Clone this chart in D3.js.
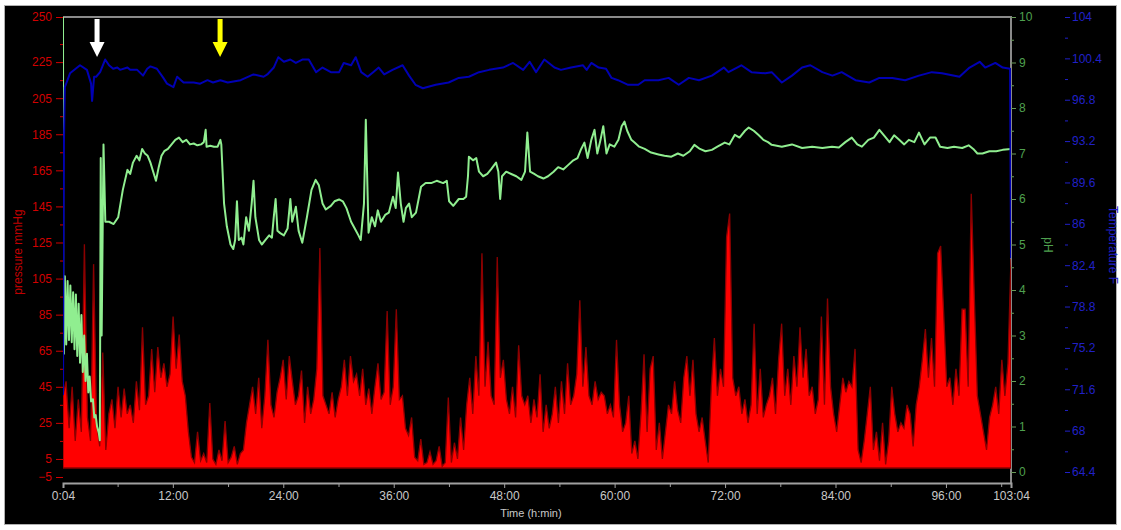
<!DOCTYPE html>
<html>
<head>
<meta charset="utf-8">
<script src="https://cdn.jsdelivr.net/npm/d3@7"></script>
<style>
  body { margin: 0; background: #fff; }
</style>
</head>
<body>
<div id="chart"></div>
<script>
// pressure, mmHg, one reading every ~20 min from 0:04 to 103:04
const pressure = [
  40, 48, 22, 45, 15, 38, 20, 124, 28, 15, 113, 25,
  12, 64, 10, 30,
  38, 22, 45, 28, 44, 30, 35, 25, 48, 32, 78, 35, 40, 66, 42, 67, 50, 58, 45, 52, 84, 55, 74, 48, 40, 20,
  6, 3, 20, 4, 8, 3, 36, 5, 2, 10, 4, 26, 3, 6, 12, 2, 8, 10, 25,
  35, 45, 30, 50, 22, 40, 71, 35, 28, 42, 50, 60, 38, 62, 48, 35, 40,
  54, 25, 45, 30, 38, 55, 122, 40, 35, 30, 42, 28, 38, 45, 60, 40, 62, 48, 52, 40, 55, 35, 44, 30, 45, 58, 38, 42, 87, 35, 45, 88, 38, 40,
  22, 18, 28, 6, 4, 16, 2, 3, 9, 2, 4, 12, 1, 3, 39, 3, 14, 5, 28, 10, 35,
  50, 30, 62, 40, 119, 45, 70, 40, 35, 117, 50, 60, 38, 30, 45, 28, 68, 40, 35, 40,
  25, 38, 28, 52, 20, 35, 22, 30, 45, 25, 48, 30, 58, 35, 40, 52, 93, 45, 67, 40, 35, 48, 38, 42, 40, 30, 35, 28,
  71, 35, 20, 25, 40, 8, 15, 5, 30, 63, 20, 55, 62, 10, 25, 5, 20, 35, 30, 48, 32, 25, 50, 62, 40, 60, 30, 20, 28, 15, 3,
  45, 72, 40, 55, 45, 128, 141, 50, 40, 45, 30, 38, 25, 35, 80, 30, 55, 28, 35,
  40, 50, 30, 60, 80, 40, 55, 35, 62, 45, 78, 50, 66, 40, 45, 30, 38, 84, 35, 94, 45, 30, 20, 35, 50, 42, 48, 45, 66,
  10, 3, 15, 30, 45, 10, 20, 4, 25, 2, 15, 45, 30, 20, 25, 22, 35, 30, 12, 35, 45, 60,
  77, 50, 72, 45, 119, 123, 85, 45, 50, 35, 55, 40, 88, 88, 45, 152, 95, 40, 30, 20, 10, 28, 35, 45, 30, 60, 40, 58, 116
];

// pH readings: [hours since 0:04, pH]
const ph = [
  [0, 10], [0.02, 4.4], [0.1, 2.6], [0.2, 4.3], [0.35, 2.8], [0.5, 4.2], [0.65, 2.9], [0.8, 4.1],
  [0.95, 2.85], [1.1, 3.95], [1.25, 2.7], [1.4, 3.9], [1.55, 2.55], [1.7, 3.7], [1.85, 2.4],
  [2.0, 3.45], [2.15, 2.2], [2.3, 3.0], [2.45, 2.0], [2.6, 2.6], [2.75, 1.75], [2.9, 2.1],
  [3.05, 1.55], [3.25, 1.6], [3.4, 1.2], [3.55, 1.25], [3.7, 1.0], [3.9, 0.85], [4.0, 0.7],
  [4.1, 6.9], [4.2, 3.0], [4.4, 7.2], [4.6, 5.5], [5.0, 5.5], [5.5, 5.45], [6.0, 5.6],
  [6.5, 6.2], [7.0, 6.64], [7.3, 6.55], [7.6, 6.8], [8.0, 6.95], [8.3, 6.85], [8.6, 7.1],
  [8.9, 7.0], [9.2, 6.95], [9.5, 6.8], [9.8, 6.6], [10.1, 6.4], [10.4, 6.7], [10.7, 6.95],
  [11.0, 7.05], [11.4, 7.1], [11.8, 7.2], [12.2, 7.3], [12.6, 7.35], [13.0, 7.25], [13.4, 7.3],
  [13.8, 7.2], [14.2, 7.22], [14.6, 7.18], [15.0, 7.2], [15.3, 7.25], [15.5, 7.52], [15.6, 7.15],
  [16.0, 7.17], [16.4, 7.15], [16.8, 7.15], [17.1, 7.3], [17.2, 7.2], [17.5, 5.9], [17.8, 5.4],
  [18.2, 5.0], [18.5, 4.9], [18.7, 5.1], [18.9, 5.95], [19.1, 5.1], [19.4, 5.15], [19.6, 5.0],
  [19.9, 5.6], [20.2, 5.3], [20.5, 5.9], [20.7, 6.4], [20.9, 5.6], [21.3, 5.1], [21.6, 5.0],
  [22.0, 5.1], [22.4, 5.2], [22.7, 5.15], [22.9, 5.6], [23.1, 6.0], [23.3, 5.3], [23.6, 5.25],
  [24.0, 5.2], [24.4, 5.35], [24.7, 6.0], [24.9, 5.5], [25.3, 5.83], [25.6, 5.3], [26.0, 5.04],
  [26.5, 5.6], [27.0, 6.2], [27.45, 6.42], [27.8, 6.3], [28.2, 5.9], [28.55, 5.77], [29.1, 5.85],
  [29.5, 5.95], [30.0, 5.99], [30.4, 5.95], [30.8, 5.8], [31.3, 5.5], [31.7, 5.35], [32.1, 5.2],
  [32.35, 5.1], [32.7, 5.9], [32.9, 7.74], [33.0, 6.9], [33.2, 5.26], [33.55, 5.6], [33.9, 5.4],
  [34.2, 5.75], [34.55, 5.5], [35.0, 5.65], [35.4, 5.7], [35.85, 6.05], [36.15, 5.8], [36.4, 6.58],
  [36.7, 5.9], [37.0, 5.5], [37.25, 5.8], [37.6, 5.9], [37.9, 5.6], [38.35, 5.7], [38.9, 6.27],
  [39.4, 6.35], [40.0, 6.35], [40.6, 6.4], [41.3, 6.35], [41.7, 6.4], [41.95, 5.95], [42.4, 5.85],
  [43.0, 6.0], [43.5, 6.0], [43.8, 6.05], [44.0, 6.5], [44.1, 6.93], [44.55, 6.85], [44.9, 6.9],
  [45.2, 6.6], [45.65, 6.5], [46.1, 6.55], [46.5, 6.65], [47.05, 6.8], [47.3, 6.6], [47.5, 6.0],
  [47.7, 6.5], [48.15, 6.6], [48.7, 6.55], [49.25, 6.5], [49.8, 6.42], [50.2, 6.6], [50.45, 7.46],
  [50.75, 6.6], [51.2, 6.55], [51.6, 6.5], [52.2, 6.45], [52.7, 6.5], [53.3, 6.6], [53.8, 6.7],
  [54.35, 6.65], [54.9, 6.75], [55.45, 6.85], [55.9, 6.9], [56.3, 7.1], [56.65, 7.24], [57.0, 6.9],
  [57.4, 7.3], [57.75, 7.52], [58.05, 7.0], [58.4, 7.3], [58.7, 7.6], [59.05, 7.0], [59.4, 7.2],
  [59.9, 7.15], [60.35, 7.3], [60.7, 7.6], [61.0, 7.7], [61.3, 7.5], [61.75, 7.3], [62.1, 7.24],
  [62.6, 7.15], [63.2, 7.1], [63.9, 7.02], [64.7, 6.98], [65.35, 6.95], [66.1, 6.93], [66.8, 7.0],
  [67.4, 6.95], [68.1, 7.05], [68.6, 7.19], [69.2, 7.1], [69.8, 7.05], [70.5, 7.08], [71.1, 7.15],
  [71.9, 7.24], [72.4, 7.2], [73.0, 7.41], [73.5, 7.35], [74.1, 7.5], [74.5, 7.57], [75.05, 7.5],
  [75.6, 7.4], [76.1, 7.3], [76.6, 7.25], [77.0, 7.19], [78.1, 7.15], [79.2, 7.2], [80.3, 7.12],
  [81.4, 7.15], [82.5, 7.12], [83.55, 7.15], [84.3, 7.13], [85.0, 7.25], [85.7, 7.35], [86.3, 7.2],
  [86.8, 7.15], [87.5, 7.3], [88.1, 7.35], [88.7, 7.52], [89.2, 7.4], [89.8, 7.25], [90.3, 7.4],
  [90.85, 7.3], [91.4, 7.2], [91.9, 7.3], [92.5, 7.25], [93.0, 7.46], [93.6, 7.2], [94.2, 7.35],
  [94.8, 7.35], [95.3, 7.15], [96.1, 7.12], [96.8, 7.15], [97.7, 7.12], [98.4, 7.18], [98.9, 7.1],
  [99.35, 7.0], [99.9, 7.0], [100.65, 7.05], [101.4, 7.05], [102.1, 7.08], [103.0, 7.1]
];

// temperature, F: [hours since 0:04, temp]
const temp = [
  [0, 71.1], [0.1, 93.0], [0.2, 97.9], [0.76, 99.1], [1.85, 99.8], [2.6, 99.4], [3.05, 98.2],
  [3.16, 96.7], [3.38, 98.8], [3.6, 98.8], [4.03, 99.2], [4.58, 100.3], [5.0, 99.8], [5.45, 99.5],
  [5.9, 99.6], [6.2, 99.4], [7.0, 99.6], [7.3, 99.4], [8.06, 99.4], [8.7, 98.9], [9.15, 99.5],
  [9.5, 99.7], [10.2, 99.5], [10.9, 98.7], [11.3, 98.2], [12.0, 97.9], [12.4, 98.8], [13.1, 98.3],
  [14.2, 98.3], [14.9, 98.2], [15.7, 98.5], [16.3, 98.3], [17.1, 98.5], [17.9, 98.3], [19.3, 98.5],
  [20.7, 99.0], [21.8, 98.8], [22.2, 99.0], [22.9, 99.6], [23.4, 100.5], [24.0, 100.1], [24.7, 100.3],
  [25.3, 100.0], [26.0, 100.3], [26.7, 100.3], [27.5, 99.2], [28.2, 99.6], [29.1, 99.2], [30.0, 99.2],
  [30.5, 100.0], [31.3, 99.8], [31.8, 100.5], [32.4, 99.2], [33.1, 98.8], [33.7, 99.2], [34.3, 99.6],
  [34.9, 99.0], [35.8, 99.4], [36.9, 99.8], [37.6, 98.9], [38.3, 98.1], [39.1, 97.8], [40.5, 98.1],
  [41.9, 98.3], [43.0, 98.7], [44.1, 98.8], [45.2, 99.2], [46.3, 99.4], [47.8, 99.6], [48.9, 100.0],
  [50.0, 99.4], [50.7, 100.1], [51.4, 99.2], [52.3, 100.3], [53.4, 99.6], [54.1, 99.4], [55.2, 99.6],
  [56.5, 99.8], [56.9, 99.4], [57.4, 100.0], [58.2, 99.6], [59.0, 99.5], [59.6, 98.7], [60.3, 98.5],
  [61.4, 98.1], [62.5, 98.1], [63.2, 98.5], [64.7, 98.5], [65.8, 98.7], [66.9, 98.1], [68.0, 98.7],
  [69.1, 98.5], [70.5, 98.9], [71.8, 99.6], [72.3, 99.2], [73.7, 99.8], [74.8, 99.2], [76.3, 99.1],
  [77.0, 99.2], [78.1, 98.3], [79.2, 98.9], [80.3, 99.6], [81.2, 99.8], [82.5, 99.2], [83.6, 98.9],
  [84.6, 99.2], [86.1, 98.5], [87.6, 98.3], [88.7, 98.7], [90.1, 98.7], [91.5, 98.5], [93.0, 98.9],
  [94.4, 99.2], [95.5, 99.1], [97.4, 98.8], [98.5, 99.6], [99.6, 100.1], [100.2, 99.6], [101.3, 100.0],
  [102.1, 99.6], [102.9, 99.5], [103.0, 83.0]
];

const pressureTicks = [-5, 5, 25, 45, 65, 85, 105, 125, 145, 165, 185, 205, 225, 250];
const pressureMinor = [15, 35, 55, 75, 95, 115, 135, 155, 175, 195, 215, 235];
const phTicks = [0, 1, 2, 3, 4, 5, 6, 7, 8, 9, 10];
const phMinor = [0.5, 1.5, 2.5, 3.5, 4.5, 5.5, 6.5, 7.5, 8.5, 9.5];
const tempTicks = [64.4, 68, 71.6, 75.2, 78.8, 82.4, 86, 89.6, 93.2, 96.8, 100.4, 104];
const tempMinor = [66.2, 69.8, 73.4, 77, 80.6, 84.2, 87.8, 91.4, 95, 98.6, 102.2];
// minutes
const timeTicks = [4, 720, 1440, 2160, 2880, 3600, 4320, 5040, 5760, 6184];
const timeMinor = [360, 1080, 1800, 2520, 3240, 3960, 4680, 5400, 6120];
const arrows = [{t: 226, color: '#ffffff'}, {t: 1028, color: '#ffff00'}];

const width = 1121, height = 530;
const plotLeft = 63, plotRight = 1011, plotTop = 17, plotBottom = 477;

const svg = d3.select("#chart").append("svg")
  .attr("width", width)
  .attr("height", height)
  .attr("font-family", "'Liberation Sans', Arial, sans-serif");

svg.append("rect")
  .attr("x", 4.5).attr("y", 5.5)
  .attr("width", 1112).attr("height", 519)
  .attr("fill", "#000")
  .attr("stroke", "#b0b0b0");

const x = d3.scaleLinear().domain([4, 6184]).range([plotLeft, plotRight]);
const yP = d3.scaleLinear().domain([-5, 250]).range([plotBottom, plotTop]);
const yPh = d3.scaleLinear().domain([0, 10]).range([472, plotTop]);
const yT = d3.scaleLinear().domain([64.4, 104]).range([472, plotTop]);

svg.append("clipPath").attr("id", "plot")
  .append("rect").attr("x", plotLeft).attr("y", plotTop)
  .attr("width", plotRight - plotLeft).attr("height", 466);

// frame
svg.append("path")
  .attr("d", `M${plotLeft},${plotTop}H${plotRight}V483`)
  .attr("fill", "none").attr("stroke", "#8a8a8a").attr("stroke-width", 2);

const step = (6184 - 4) / (pressure.length - 1);
const pData = pressure.map((v, i) => [4 + i * step, v]);

const plot = svg.append("g").attr("clip-path", "url(#plot)");

plot.append("path")
  .datum(pData)
  .attr("fill", "#ff0000")
  .attr("stroke", "#8c0000")
  .attr("stroke-width", 1.3)
  .attr("d", d3.area()
    .x(d => x(d[0]))
    .y0(yP(0))
    .y1(d => yP(d[1])));

plot.append("path")
  .datum(ph)
  .attr("fill", "none")
  .attr("stroke", "#90ee90")
  .attr("stroke-width", 2)
  .attr("stroke-linejoin", "round")
  .attr("d", d3.line()
    .x(d => x(4 + d[0] * 60))
    .y(d => yPh(d[1])));

plot.append("path")
  .datum(temp)
  .attr("fill", "none")
  .attr("stroke", "#0000b4")
  .attr("stroke-width", 2)
  .attr("stroke-linejoin", "round")
  .attr("d", d3.line()
    .x(d => x(4 + d[0] * 60))
    .y(d => yT(d[1])));

// arrows
svg.append("g")
  .selectAll("path")
  .data(arrows)
  .join("path")
    .attr("fill", d => d.color)
    .attr("transform", d => `translate(${x(d.t)},0)`)
    .attr("d", "M-2.5,19H2.5V42H7.5L0,57L-7.5,42H-2.5Z");

// axes
const fmtTime = m => Math.floor(m / 60) + ":" + String(m % 60).padStart(2, "0");

function style(g, color, lineColor) {
  g.select(".domain").remove();
  g.selectAll("line").attr("stroke", lineColor || color);
  g.selectAll("text").attr("fill", color).attr("font-size", 12);
}

svg.append("g")
  .attr("transform", `translate(${plotLeft},0)`)
  .call(d3.axisLeft(yP).tickValues(pressureTicks).tickSize(7).tickPadding(4))
  .call(g => style(g, "#d20000"));
svg.append("g")
  .attr("transform", `translate(${plotLeft},0)`)
  .call(d3.axisLeft(yP).tickValues(pressureMinor).tickSize(3).tickFormat(""))
  .call(g => style(g, "#d20000"));

svg.append("g")
  .attr("transform", `translate(${plotRight},0)`)
  .call(d3.axisRight(yPh).tickValues(phTicks).tickSize(5).tickPadding(3))
  .call(g => style(g, "#4fa04f", "#6a9a5a"));
svg.append("g")
  .attr("transform", `translate(${plotRight},0)`)
  .call(d3.axisRight(yPh).tickValues(phMinor).tickSize(3).tickFormat(""))
  .call(g => style(g, "#4fa04f", "#6a9a5a"));

svg.append("g")
  .attr("transform", `translate(1065,0)`)
  .call(d3.axisRight(yT).tickValues(tempTicks).tickSize(5).tickPadding(2).tickFormat(d => String(d)))
  .call(g => style(g, "#2020c8"));
svg.append("g")
  .attr("transform", `translate(1065,0)`)
  .call(d3.axisRight(yT).tickValues(tempMinor).tickSize(3).tickFormat(""))
  .call(g => style(g, "#2020c8"));

svg.append("g")
  .attr("transform", `translate(0,483)`)
  .call(d3.axisBottom(x).tickValues(timeTicks).tickSize(5).tickPadding(3).tickFormat(fmtTime))
  .call(g => g.select(".domain").attr("stroke", "#a0a0a0").attr("stroke-width", 2))
  .call(g => g.selectAll("line").attr("stroke", "#a0a0a0"))
  .call(g => g.selectAll("text").attr("fill", "#c8c8c8").attr("font-size", 12));
svg.append("g")
  .attr("transform", `translate(0,483)`)
  .call(d3.axisBottom(x).tickValues(timeMinor).tickSize(4).tickFormat(""))
  .call(g => g.select(".domain").remove())
  .call(g => g.selectAll("line").attr("stroke", "#a0a0a0"));

// titles
svg.append("text")
  .attr("transform", "translate(22,252) rotate(-90)")
  .attr("text-anchor", "middle")
  .attr("font-size", 12)
  .attr("fill", "#c00000")
  .text("pressure mmHg");

svg.append("text")
  .attr("transform", "translate(1044,245) rotate(90)")
  .attr("text-anchor", "middle")
  .attr("font-size", 12)
  .attr("fill", "#4fa04f")
  .text("pH");

svg.append("text")
  .attr("transform", "translate(1109,245) rotate(90)")
  .attr("text-anchor", "middle")
  .attr("font-size", 12)
  .attr("fill", "#2020c8")
  .text("Temperature F");

svg.append("text")
  .attr("x", 531).attr("y", 517)
  .attr("text-anchor", "middle")
  .attr("font-size", 11)
  .attr("fill", "#c8c8c8")
  .text("Time (h:min)");
</script>
</body>
</html>
